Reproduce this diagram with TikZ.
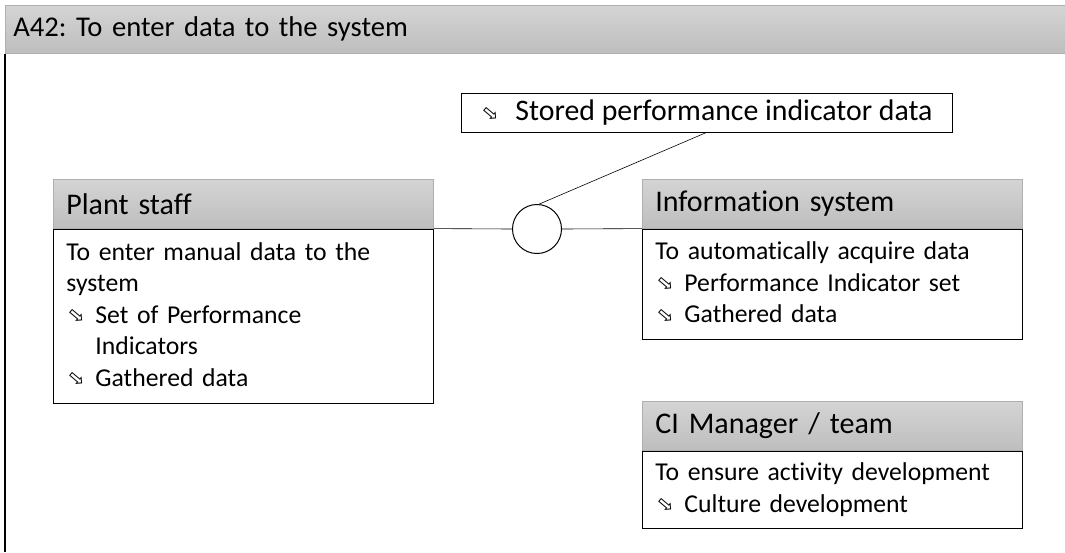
\documentclass[tikz,border=0pt]{standalone}
\usepackage{fontspec}
\usepackage{graphicx}
\setmainfont{Carlito}[Ligatures=NoCommon]
\newfontfamily\dingfont{DejaVu Sans}
\definecolor{headtop}{RGB}{212,212,212}
\definecolor{headbot}{RGB}{190,190,190}
\definecolor{headline}{RGB}{175,175,175}
\frenchspacing

% hollow arrow used as list bullet
\newcommand{\pibullet}[1][29pt]{\makebox[#1][l]{\raisebox{0.05ex}{\dingfont\fontsize{20}{20}\selectfont\rotatebox[origin=c]{-40}{⇨}}}}

\tikzset{
    titlebar/.style={draw=headline, top color=headtop, bottom color=headbot, anchor=north west,
        minimum width=1062pt, minimum height=48pt, text width=1046pt, inner xsep=7pt, align=left,
        font=\fontsize{28.6}{31}\selectfont},
    header/.style={draw=headline, top color=headtop, bottom color=headbot, anchor=north west,
        minimum height=49pt, text width=354pt, inner xsep=13pt, align=left,
        font=\fontsize{30}{33}\selectfont},
    body/.style={draw, line width=0.9pt, fill=white, anchor=north west,
        text width=354pt, inner xsep=13pt, align=left,
        font=\fontsize{25.7}{31.5}\selectfont},
}

\begin{document}
\begin{tikzpicture}[x=1pt, y=-1pt, line width=0.6pt]
    \useasboundingbox (0,0) rectangle (1065,552);

    % title bar and frame
    \node[titlebar] (title) at (5,5) {A42: To enter data to the system};
    \coordinate (frameend) at (5,552);
    \draw[line width=1.3pt] (title.south west) -- (frameend);

    % plant staff
    \node[header] (plant) at (53,179) {Plant staff};
    \node[body, minimum height=174pt] (plantbody) at (plant.south west)
        {To enter manual data to the\\ system\\
         \pibullet Set of Performance\\ \hspace*{29pt}Indicators\\
         \pibullet Gathered data};

    % information system
    \node[header] (info) at (642,179) {Information system};
    \node[body, minimum height=110pt] (infobody) at (info.south west)
        {To automatically acquire data\\
         \pibullet Performance Indicator set\\
         \pibullet Gathered data};

    % CI manager
    \node[header] (ci) at (642,401) {CI Manager / team};
    \node[body, minimum height=77pt] (cibody) at (ci.south west)
        {To ensure activity development\\
         \pibullet Culture development};

    % stored data and junction
    \node[draw, line width=0.9pt, minimum width=491pt, minimum height=39pt, inner xsep=13pt,
        font=\fontsize{29.8}{32}\selectfont] (stored) at (706.5,112.5)
        {\pibullet[35pt]Stored performance indicator data};
    \node[draw, circle, line width=1pt, minimum size=49pt, inner sep=0pt, fill=white] (hub) at (537,229) {};

    \draw (plantbody.north east) -- (hub.west);
    \draw (hub.east) -- (infobody.north west);
    \draw (hub.85) -- (stored.south);
\end{tikzpicture}
\end{document}
